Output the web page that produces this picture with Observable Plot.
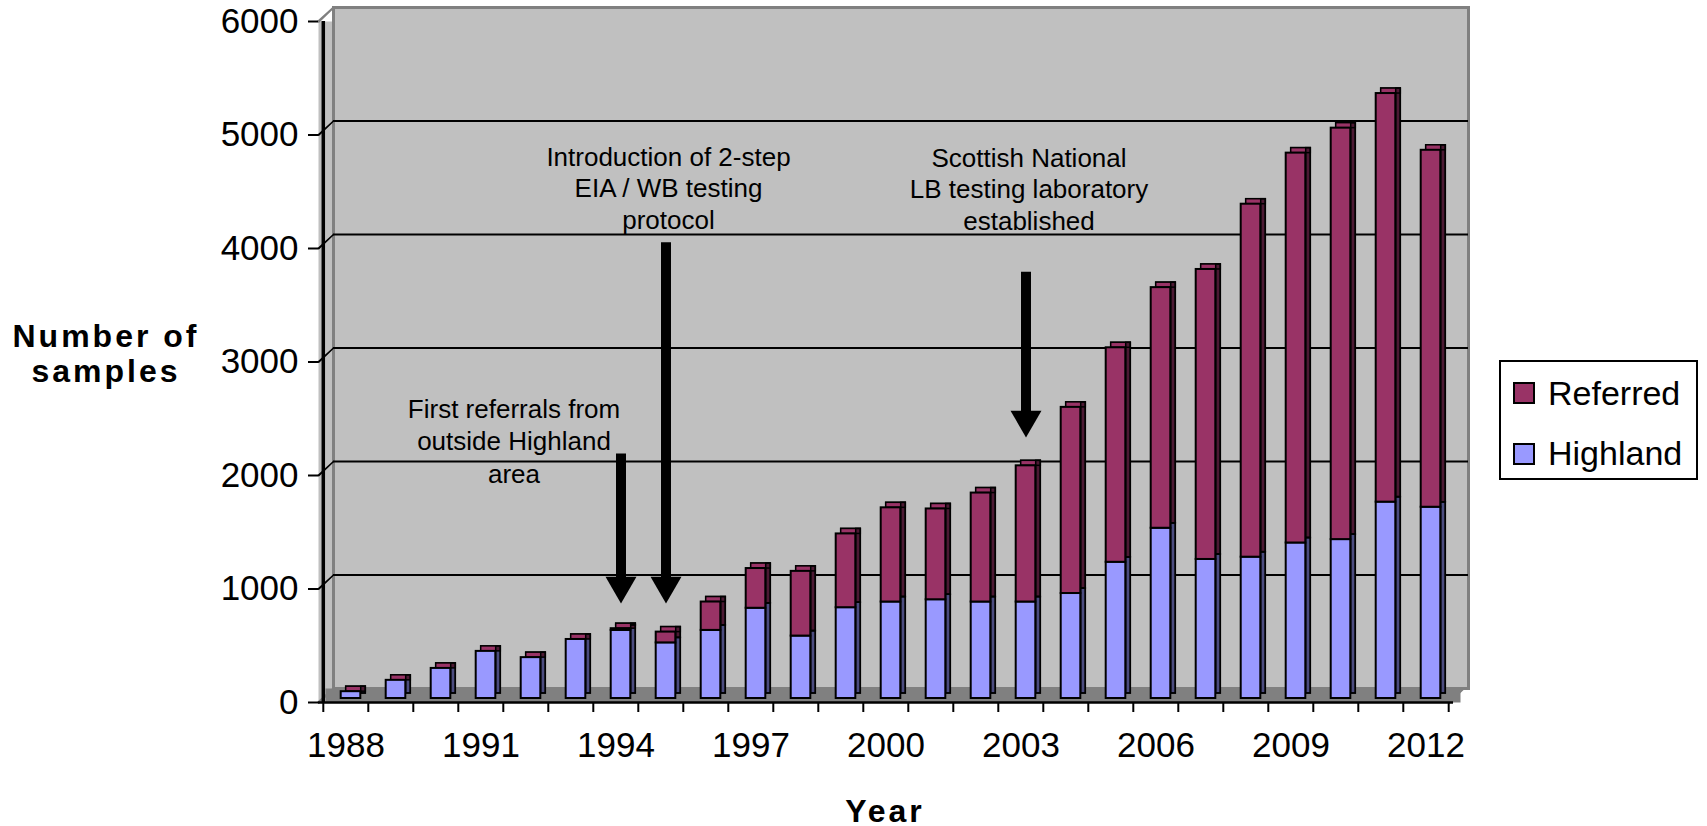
<!DOCTYPE html>
<html>
<head>
<meta charset="utf-8">
<script src="https://cdn.jsdelivr.net/npm/d3@7"></script>
<script src="https://cdn.jsdelivr.net/npm/@observablehq/plot@0.6"></script>
<style>
  body { margin: 0; background: #fff; font-family: "Liberation Sans", Arial, sans-serif; }
  #wrap { position: relative; width: 1707px; height: 826px; }
  #chart { position: absolute; left: 0; top: 0; }
  .lab { position: absolute; font-weight: bold; font-size: 32px; line-height: 35px; letter-spacing: 3px; text-align: center; color: #000; }
  #legend { position: absolute; left: 1499px; top: 360px; width: 199px; height: 120px; box-sizing: border-box; border: 2px solid #000; background: #fff; }
  .sw { position: absolute; left: 12px; width: 22px; height: 22px; box-sizing: border-box; border: 2px solid #000; }
  .lt { position: absolute; left: 47px; font-size: 34px; line-height: 40px; color: #000; white-space: nowrap; }
</style>
</head>
<body>
<div id="wrap">
  <div id="chart"></div>
  <div class="lab" style="left:0;top:319px;width:212px;">Number of<br>samples</div>
  <div class="lab" style="left:785px;top:798px;width:200px;line-height:26px;">Year</div>
  <div id="legend"></div>
</div>
<script>
// ---- data ----
const years = ["1988","1989","1990","1991","1992","1993","1994","1995","1996","1997","1998","1999","2000",
               "2001","2002","2003","2004","2005","2006","2007","2008","2009","2010","2011","2012"];
const highland = [60,160,265,415,360,520,600,490,600,795,550,800,850,870,850,850,925,1200,1500,1225,1245,1370,1400,1730,1685];
const referred = [0,0,0,0,0,0,15,95,250,350,570,650,830,800,960,1200,1640,1890,2120,2555,3110,3435,3625,3600,3145];
const seriesNames = ["Referred", "Highland"];
const seriesColors = ["#993366", "#9999ff"];
const yTicks = [0,1000,2000,3000,4000,5000,6000];
const gridTicks = [1000,2000,3000,4000,5000];
const xLabelYears = ["1988","1991","1994","1997","2000","2003","2006","2009","2012"];
const noteYears = ["1992","1995","2003"];
const noteTexts = ["First referrals from\noutside Highland\narea",
                   "Introduction of 2-step\nEIA / WB testing\nprotocol",
                   "Scottish National\nLB testing laboratory\nestablished"];
const noteValues = [1938, 4176, 4167];
const arrowYears = ["1994","1995","2003"];
const arrowTops = [2190, 4050, 3790];
const arrowTips = [872, 872, 2335];

// ---- tables built from the arrays ----
const rows = [];
years.forEach((y, i) => {
  rows.push({year: y, series: "Highland", value: highland[i]});
  rows.push({year: y, series: "Referred", value: referred[i]});
});
const totals = years.map((y, i) => ({year: y, total: highland[i] + referred[i]}));
const notes = noteTexts.map((t, i) => ({text: t, year: noteYears[i], value: noteValues[i]}));
const arrows = arrowYears.map((y, i) => ({year: y, top: arrowTops[i], tip: arrowTips[i]}));

// ---- layout ----
const W = 1707, H = 826, ML = 318, MR = 254, MT = 21, MB = 124;
const bw = (W - ML - MR) / years.length;
const barW = 20, depth = 5;
const inset = (bw - barW) / 2;
const fdx = 5, fdy = -4;           // bar front face offset (depth position)
const wallDx = 15, wallDy = -14;   // back wall offset
const font = "Liberation Sans, Arial, sans-serif";

const chart = Plot.plot({
  width: W, height: H,
  marginLeft: ML, marginRight: MR, marginTop: MT, marginBottom: MB,
  style: {fontFamily: font, fontSize: "35px", background: "transparent", overflow: "visible", color: "#000"},
  x: {type: "band", domain: years, padding: 0},
  y: {domain: [0, 6000]},
  color: {domain: seriesNames, range: seriesColors},
  marks: [
    // left wall + back wall + floor
    Plot.frame({fill: "#c0c0c0"}),
    Plot.frame({fill: "#c0c0c0", stroke: "#808080", strokeWidth: 3, dx: wallDx, dy: wallDy}),
    Plot.frame({fill: "#808080", insetTop: (H - MT - MB) + wallDy, dx: 7}),
    // gridlines on back wall
    Plot.ruleY(gridTicks, {stroke: "#000", strokeWidth: 2, dx: wallDx, dy: wallDy}),
    // slanted connectors from axis ticks to back wall
    Plot.vector(gridTicks, {y: d => d, frameAnchor: "left", length: 20.5, rotate: 47, anchor: "start",
      shape: "spike", r: 0.3, stroke: "#000", strokeWidth: 1.5, fill: "#000"}),
    Plot.vector([0, 6000], {y: d => d, frameAnchor: "left", length: 20.5, rotate: 47, anchor: "start",
      shape: "spike", r: 0.3, stroke: "#808080", strokeWidth: 2, fill: "#808080"}),
    Plot.vector([0], {x: () => years[years.length - 1], y: d => d, dx: bw / 2, length: 20.5, rotate: 47, anchor: "start",
      shape: "spike", r: 0.3, stroke: "#808080", strokeWidth: 2, fill: "#808080"}),
    // axis lines
    Plot.ruleX([years[0]], {dx: -bw / 2, stroke: "#000", strokeWidth: 3.5}),
    Plot.ruleY([0], {stroke: "#000", strokeWidth: 2.5}),
    // axes
    Plot.axisY({ticks: yTicks, tickSize: 10, tickPadding: 10, tickFormat: d => String(d), fontSize: 35, strokeWidth: 2, label: null}),
    Plot.axisX({ticks: years, tickSize: 10, tickFormat: () => "", dx: -bw / 2, strokeWidth: 2, label: null}),
    Plot.axisX({ticks: [years[years.length - 1]], tickSize: 10, tickFormat: () => "", dx: bw / 2, strokeWidth: 2, label: null}),
    Plot.axisX({ticks: xLabelYears, tickSize: 0, tickPadding: 30, fontSize: 35, label: null}),
    // bars: back, top face, side face, front face
    Plot.barY(rows, {x: "year", y: "value", fill: "series", stroke: "#000", strokeWidth: 1.5,
      insetLeft: inset, insetRight: inset, dx: fdx + depth, dy: fdy - depth}),
    Plot.barY(totals, {x: "year", y1: "total", y2: "total", fill: seriesColors[0], stroke: "#000", strokeWidth: 1.5,
      insetLeft: inset, insetRight: inset, insetTop: -depth, dx: fdx + depth, dy: fdy}),
    Plot.barY(rows, {x: "year", y: "value", fill: "#000", fillOpacity: 0.5, stroke: "#000", strokeWidth: 1.5,
      insetLeft: inset + barW - depth, insetRight: inset, dx: fdx + depth, dy: fdy - depth}),
    Plot.barY(rows, {x: "year", y: "value", fill: "series", stroke: "#000", strokeWidth: 2,
      insetLeft: inset, insetRight: inset, dx: fdx, dy: fdy}),
    // arrows
    Plot.ruleX(arrows, {x: "year", y1: "top", y2: "tip", insetBottom: 20, stroke: "#000", strokeWidth: 10, dx: fdx}),
    Plot.dot(arrows, {x: "year", y: "tip", symbol: "triangle", rotate: 180, r: 11.5, fill: "#000", stroke: "none", dx: fdx, dy: -17.9}),
    // annotations
    Plot.text([notes[0]], {x: "year", y: "value", text: "text", lineAnchor: "bottom", lineHeight: 1.25, fontSize: 26, dx: -12, fill: "#000"}),
    Plot.text([notes[1]], {x: "year", y: "value", text: "text", lineAnchor: "bottom", lineHeight: 1.2, fontSize: 26, dx: 7.5, fill: "#000"}),
    Plot.text([notes[2]], {x: "year", y: "value", text: "text", lineAnchor: "bottom", lineHeight: 1.2, fontSize: 26, dx: 8, fill: "#000"})
  ]
});
document.getElementById("chart").appendChild(chart);

// legend (HTML)
const legend = document.getElementById("legend");
const legendTops = [20, 81];
const legendTextTops = [11, 71];
seriesNames.forEach((name, i) => {
  const sw = document.createElement("div");
  sw.className = "sw";
  sw.style.top = legendTops[i] + "px";
  sw.style.background = seriesColors[i];
  legend.appendChild(sw);
  const t = document.createElement("div");
  t.className = "lt";
  t.style.top = legendTextTops[i] + "px";
  t.textContent = name;
  legend.appendChild(t);
});
</script>
</body>
</html>
